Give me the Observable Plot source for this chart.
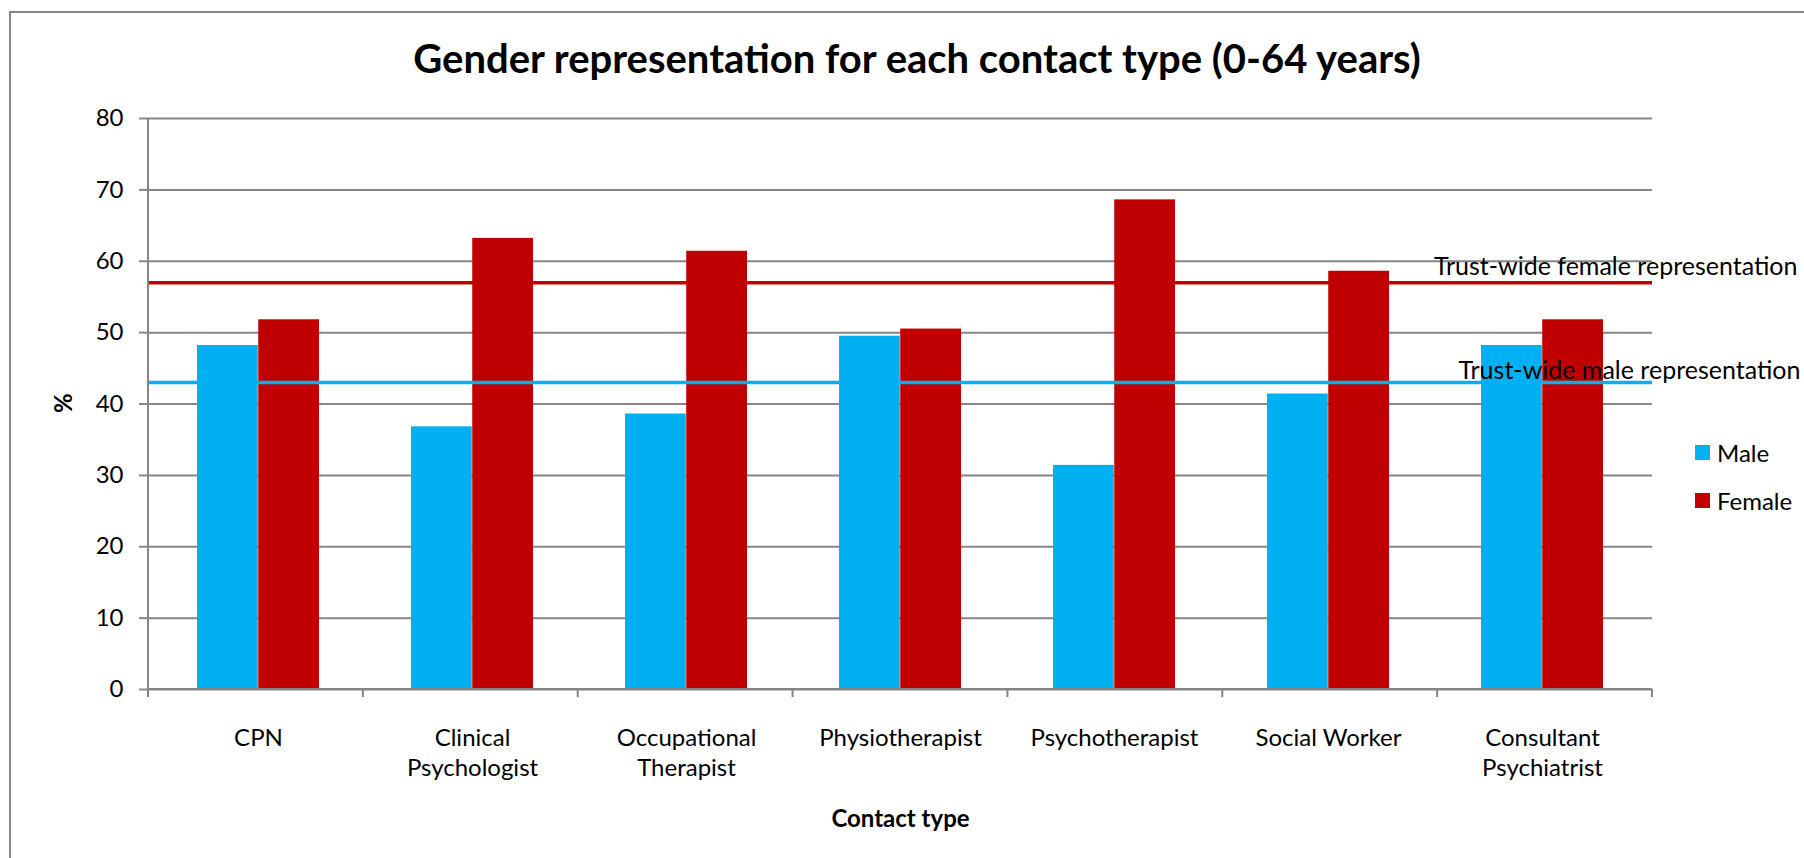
<!DOCTYPE html>
<html>
<head>
<meta charset="utf-8">
<script src="https://cdn.jsdelivr.net/npm/d3@7"></script>
<script src="https://cdn.jsdelivr.net/npm/@observablehq/plot@0.6"></script>
<style>
  html, body { margin: 0; padding: 0; background: #fff; }
  #wrap { position: relative; width: 1804px; height: 858px; overflow: hidden; font-family: Lato, "Open Sans", sans-serif; color: #000; }
  #border { position: absolute; left: 9px; top: 11px; width: 2000px; height: 1000px; border-top: 2px solid #868686; border-left: 2px solid #868686; }
  #title { position: absolute; left: 0; width: 1834px; top: 34px; text-align: center; font-weight: 700; font-size: 40px; line-height: 48px; white-space: nowrap; }
  #chart { position: absolute; left: 0; top: 0; }
  #legend { position: absolute; left: 1695px; top: 439px; font-size: 24px; }
  .item { display: flex; align-items: center; height: 26px; margin-bottom: 22px; white-space: nowrap; }
  .sw { width: 15px; height: 15px; margin-right: 7px; }
</style>
</head>
<body>
<div id="wrap">
  <div id="border"></div>
  <div id="title"></div>
  <div id="chart"></div>
  <div id="legend"></div>
</div>
<script>
const titleText = "Gender representation for each contact type (0-64 years)";
const categories = ["CPN", "Clinical Psychologist", "Occupational Therapist", "Physiotherapist", "Psychotherapist", "Social Worker", "Consultant Psychiatrist"];
const tickLabels = ["CPN", "Clinical\nPsychologist", "Occupational\nTherapist", "Physiotherapist", "Psychotherapist", "Social Worker", "Consultant\nPsychiatrist"];
const series = ["Male", "Female"];
const maleValues = [48.2, 36.8, 38.6, 49.5, 31.4, 41.4, 48.2];
const femaleValues = [51.8, 63.2, 61.4, 50.5, 68.6, 58.6, 51.8];
const trustFemale = 57;
const trustMale = 43;
const trustFemaleLabel = "Trust-wide female representation";
const trustMaleLabel = "Trust-wide male representation";
const yTicks = [0, 10, 20, 30, 40, 50, 60, 70, 80];
const yLabel = "%";
const xLabel = "Contact type";
const colors = {Male: "#00B0F0", Female: "#C00000"};

const grid = "#868686";
const W = 1804, H = 858, mL = 148, mR = 152, mT = 118, mB = 169;
const pad = 0.43;
const plotW = W - mL - mR;
const half = (plotW / categories.length) * (1 - pad) / 2;

const maleRows = categories.map((c, i) => ({category: c, value: maleValues[i]}));
const femaleRows = categories.map((c, i) => ({category: c, value: femaleValues[i]}));

function axisLines(index, scales, values, dims) {
  const x0 = dims.marginLeft, x1 = dims.width - dims.marginRight;
  const y0 = dims.marginTop, y1 = dims.height - dims.marginBottom;
  const n = categories.length;
  const g = d3.create("svg:g").attr("stroke", grid).attr("stroke-width", 2);
  g.append("line").attr("x1", x0).attr("x2", x0).attr("y1", y0).attr("y2", y1 + 8);
  g.append("line").attr("x1", x0).attr("x2", x1).attr("y1", y1).attr("y2", y1);
  for (let i = 0; i <= n; i++) {
    const x = x0 + i * (x1 - x0) / n;
    g.append("line").attr("x1", x).attr("x2", x).attr("y1", y1).attr("y2", y1 + 8);
  }
  return g.node();
}

const plot = Plot.plot({
  width: W, height: H,
  marginLeft: mL, marginRight: mR, marginTop: mT, marginBottom: mB,
  style: {fontFamily: "Lato, 'Open Sans', sans-serif", fontSize: "24px", color: "#000", background: "transparent", overflow: "visible"},
  x: {domain: categories, paddingInner: pad, paddingOuter: pad / 2, axis: null},
  y: {domain: [0, 80], axis: null},
  marks: [
    Plot.ruleY(yTicks, {stroke: grid, strokeWidth: 2}),
    Plot.barY(maleRows, {x: "category", y: "value", fill: colors.Male, insetRight: half}),
    Plot.barY(femaleRows, {x: "category", y: "value", fill: colors.Female, insetLeft: half}),
    Plot.ruleY([trustFemale], {stroke: colors.Female, strokeWidth: 3.5}),
    Plot.ruleY([trustMale], {stroke: colors.Male, strokeWidth: 3.5}),
    axisLines,
    Plot.axisY({ticks: yTicks, tickSize: 9, tickPadding: 16, stroke: grid, strokeWidth: 2, fill: "#000", fontSize: 24, label: null}),
    Plot.axisX({tickSize: 0, tickPadding: 35, tickFormat: d => tickLabels[categories.indexOf(d)], lineHeight: 1.26, fill: "#000", fontSize: 24, label: null}),
    Plot.text([trustFemale], {y: d => d, text: () => trustFemaleLabel, frameAnchor: "right", textAnchor: "end", dx: 145, dy: -16, fontSize: 25, fill: "#000"}),
    Plot.text([trustMale], {y: d => d, text: () => trustMaleLabel, frameAnchor: "right", textAnchor: "end", dx: 148, dy: -12, fontSize: 25, fill: "#000"}),
    Plot.text([yLabel], {text: d => d, frameAnchor: "left", dx: -84, dy: 9, rotate: -90, fontWeight: "bold", fontSize: 24, fill: "#000"}),
    Plot.text([xLabel], {text: d => d, frameAnchor: "bottom", dy: 137, fontWeight: "bold", fontSize: 24, fill: "#000"})
  ]
});
document.getElementById("chart").appendChild(plot);
document.getElementById("title").textContent = titleText;
const legend = d3.select("#legend");
series.forEach(s => {
  const it = legend.append("div").attr("class", "item");
  it.append("div").attr("class", "sw").style("background", colors[s]);
  it.append("span").text(s);
});
</script>
</body>
</html>
